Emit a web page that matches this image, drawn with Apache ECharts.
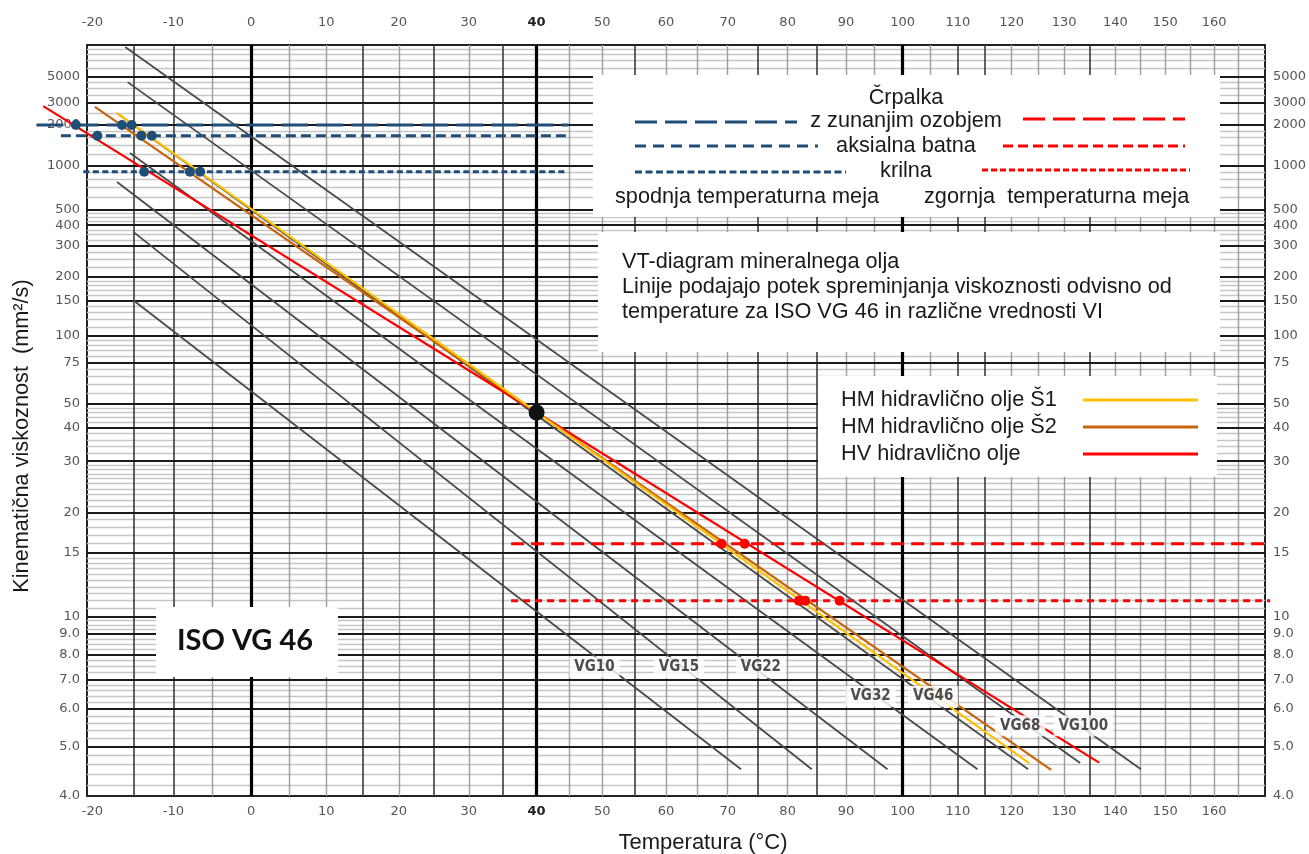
<!DOCTYPE html>
<html>
<head>
<meta charset="utf-8">
<script src="https://cdn.jsdelivr.net/npm/echarts@6/dist/echarts.min.js"></script>
<style>html,body{margin:0;padding:0;background:#fff}#c{width:1309px;height:854px}</style>
</head>
<body>
<div id="c"></div>
<script>
// ---------------- data ----------------
const xTickTemps = [-20,-10,0,10,20,30,40,50,60,70,80,90,100,110,120,130,140,150,160];
const yTickValues = [4,5,6,7,8,9,10,15,20,30,40,50,75,100,150,200,300,400,500,1000,2000,3000,5000];
const yTickLabels = ['4.0','5.0','6.0','7.0','8.0','9.0','10','15','20','30','40','50','75','100','150','200','300','400','500','1000','2000','3000','5000'];
const yMinorValues = [4.2,4.4,4.6,4.8,5.2,5.4,5.6,5.8,6.2,6.4,6.6,6.8,7.25,7.5,7.75,8.25,8.5,8.75,9.25,9.5,9.75,
  10.5,11,11.5,12,12.5,13,13.5,14,14.5,16,17,18,19,21,22,23,24,25,26,27,28,29,32,34,36,38,42,44,46,48,
  55,60,65,70,80,85,90,95,110,120,130,140,160,170,180,190,225,250,275,325,350,375,425,450,475,
  600,700,800,900,1200,1400,1600,1800,2500,3500,4000,4500,6000,7000,8000,9000];
const xLightTemps = [-5,5,10,20,30,45,50,60,65,70,80,90,95,105,120,125,130,140,145,150,155,160,165];
const xDarkTemps = [-15,-10,15,25,35,55,75,85,110,115,135];
const xThickTemps = [0,40,100];
const xRangeTemps = [-20.66, 170.7];
const yRangeVisc = [4.0, 9800];

const oilNames = ['HM hidravlično olje Š1','HM hidravlično olje Š2','HV hidravlično olje'];
const oilColors = ['#FFC000','#C8650C','#FF0000'];
const oilS1 = [[-17.05,2500],[40,46],[123.3,4.63]];
const oilS2 = [[-19.7,2795],[40,46],[127.5,4.49]];
const oilHV = [[-25.9,2832],[40,46],[136.8,4.64]];
const refPoint = [[40,46]];

const vgNames = ['VG10','VG15','VG22','VG32','VG46','VG68','VG100'];
const vg10 = [[-15.0,150],[72.2,4.5]];
const vg15 = [[-15.0,364],[84.1,4.5]];
const vg22 = [[-17.0,764],[97.3,4.5]];
const vg32 = [[-15.4,1226],[113.6,4.5]];
const vg46 = [[-17.0,2485],[123.1,4.5]];
const vg68 = [[-15.7,4517],[133.1,4.63]];
const vg100 = [[-16.0,9370],[145.1,4.5]];
const vgLabelPos = [[48.8,7.48],[62.1,7.46],[75.5,7.46],[94.3,6.4],[105.5,6.4],[121.6,5.52],[133.7,5.52]];

const pumpNames = ['z zunanjim ozobjem','aksialna batna','krilna'];
const pumpLowVisc = [2000,1650,900];
const pumpLowFrom = [-26.7,-23.8,-21.1];
const pumpLowTo = [44.8,44.8,44.35];
const pumpLowDots = [[-22.0,-16.4,-15.2],[-19.4,-14.0,-12.7],[-13.65,-7.9,-6.6]];
const pumpHighVisc = [16, 11];          // aksialna batna, krilna
const pumpHighFrom = [36.2, 36.2];
const pumpHighTo = [170.7, 171.8];
const pumpHighDots = [[69.0,72.8],[81.9,83.0,88.9]];

// ---------------- transforms (Ubbelohde–Walther scale) ----------------
const X = t => Math.log10(t + 273.15);
const W = v => Math.log10(Math.log10(v + 0.7));
const pt = p => [X(p[0]), W(p[1])];

const BLUE = '#1F4E79', RED = '#FF0000';
const F = '"Liberation Sans", Arial, sans-serif';
const AF = '"DejaVu Sans", Verdana, sans-serif';

function gridSeries(name, key, vals, style, z) {
  return { name, type: 'line', data: [], z, silent: true,
    markLine: { silent: true, z, precision: 12, symbol: ['none','none'], label: { show: false },
      emphasis: { disabled: true }, animation: false,
      lineStyle: Object.assign({ type: 'solid' }, style),
      data: vals.map(v => ({ [key]: v })) } };
}
function lineSeries(name, pts, color, width, z) {
  return { name, type: 'line', data: pts.map(pt), symbol: 'none', z, silent: true,
    emphasis: { disabled: true }, animation: false,
    itemStyle: { color }, lineStyle: { color, width, type: 'solid' } };
}
function linesSeries(name, pts, color, width, dash, z) {
  return { name, type: 'lines', coordinateSystem: 'cartesian2d', polyline: true, clip: false, silent: true,
    z, animation: false, data: [{ coords: pts.map(pt) }],
    lineStyle: { color, width, type: dash || 'solid', opacity: 1, curveness: 0 } };
}
function dotSeries(name, pts, color, size, z) {
  return { name, type: 'scatter', data: pts.map(pt), symbolSize: size, clip: false, z, silent: true,
    itemStyle: { color, opacity: 1 }, emphasis: { disabled: true }, animation: false };
}

const series = [];
series.push(gridSeries('minorH', 'yAxis', yMinorValues.map(W), { color: '#c6c6c6', width: 1.3 }, 1));
series.push(gridSeries('lightV', 'xAxis', xLightTemps.map(X), { color: '#9c9c9c', width: 1.4 }, 1));
series.push(gridSeries('darkV', 'xAxis', xDarkTemps.map(X), { color: '#3c3c3c', width: 1.6 }, 2));
series.push(gridSeries('majorH', 'yAxis', yTickValues.map(W), { color: '#1a1a1a', width: 2.2 }, 2));
series.push(gridSeries('thickV', 'xAxis', xThickTemps.map(X), { color: '#000', width: 3.2 }, 2));

[vg10, vg15, vg22, vg32, vg46, vg68, vg100].forEach((l, i) =>
  series.push(lineSeries(vgNames[i], l, '#4a4a4a', 1.8, 3)));

const lowDash = [[27,8],[10,5],[6,3.5]];
pumpNames.forEach((n, i) => {
  series.push(linesSeries('low ' + n, [[pumpLowFrom[i], pumpLowVisc[i]], [pumpLowTo[i], pumpLowVisc[i]]], BLUE, 3, lowDash[i], 4));
});
const highDash = [[13,7],[7,5]];
pumpHighVisc.forEach((v, i) => {
  series.push(linesSeries('high ' + i, [[pumpHighFrom[i], v], [pumpHighTo[i], v]], RED, 3, highDash[i], 4));
});

series.push(linesSeries(oilNames[2], oilHV, oilColors[2], 2.2, 'solid', 5));
series.push(linesSeries(oilNames[1], oilS2, oilColors[1], 2.2, 'solid', 5));
series.push(linesSeries(oilNames[0], oilS1, oilColors[0], 2.2, 'solid', 6));

const lowDotPts = [];
pumpLowDots.forEach((row, i) => row.forEach(t => lowDotPts.push([t, pumpLowVisc[i]])));
const highDotPts = [];
pumpHighDots.forEach((row, i) => row.forEach(t => highDotPts.push([t, pumpHighVisc[i]])));
series.push(dotSeries('lowDots', lowDotPts, BLUE, 10, 7));
series.push(dotSeries('highDots', highDotPts, RED, 10, 7));
series.push(dotSeries('ref', refPoint, '#111', 16, 8));

series.push({
  name: 'vgLabels', type: 'scatter', data: vgLabelPos.map(pt), symbolSize: 1, z: 9, silent: true,
  itemStyle: { color: 'rgba(0,0,0,0)' }, animation: false,
  label: { show: true, position: 'inside', formatter: p => vgNames[p.dataIndex],
    backgroundColor: '#fff', padding: [3, 5], color: '#222', fontWeight: 'bold',
    fontSize: 15, fontFamily: '"DejaVu Sans Condensed", "DejaVu Sans", sans-serif' }
});

function yLabel(val) {
  let best = 0, bd = Infinity;
  yTickValues.forEach((t, i) => { const d = Math.abs(W(t) - val); if (d < bd) { bd = d; best = i; } });
  return yTickLabels[best];
}
function xLabel(val) {
  const t = Math.round(Math.pow(10, val) - 273.15);
  return t === 40 ? '{b|40}' : String(t);
}
const axLbl = { color: '#555', fontSize: 13, fontFamily: AF };
const xAxisBase = {
  type: 'value', min: X(xRangeTemps[0]), max: X(xRangeTemps[1]),
  axisLine: { show: true, onZero: false, lineStyle: { color: '#222', width: 2 } },
  axisTick: { show: false }, splitLine: { show: false },
};
const yAxisBase = {
  type: 'value', min: W(yRangeVisc[0]), max: W(yRangeVisc[1]),
  axisLine: { show: true, onZero: false, lineStyle: { color: '#222', width: 2 } },
  axisTick: { show: false }, splitLine: { show: false },
};

const FS = 21.7;
function txt(x, y, text, align, extra) {
  return { type: 'text', x, y, z: 51, style: Object.assign({ text, fontSize: FS, fontFamily: F, fill: '#1a1a1a',
    align: align || 'center', verticalAlign: 'middle' }, extra || {}) };
}
function ln(x1, y1, x2, y2, color, dash) {
  return { type: 'line', z: 51, shape: { x1, y1, x2, y2 }, style: { stroke: color, lineWidth: 3, lineDash: dash } };
}

const graphic = [
  { type: 'rect', z: 50, shape: { x: 593, y: 75, width: 627, height: 142 }, style: { fill: '#fff' } },
  txt(906, 98, 'Črpalka'),
  ln(635, 122, 797, 122, BLUE, [22, 8]), txt(906, 121, pumpNames[0]), ln(1023, 119, 1185, 119, RED, [22, 8]),
  ln(635, 146, 818, 146, BLUE, [11, 7]), txt(906, 146, pumpNames[1]), ln(1003, 146, 1185, 146, RED, [10, 5]),
  ln(635, 172, 846, 172, BLUE, [7, 3.5]), txt(906, 171, pumpNames[2]), ln(982, 170, 1190, 170, RED, [6, 3]),
  txt(615, 197, 'spodnja temperaturna meja', 'left'), txt(924, 197, 'zgornja  temperaturna meja', 'left'),
  { type: 'rect', z: 50, shape: { x: 598, y: 232, width: 622, height: 120 }, style: { fill: '#fff' } },
  { type: 'text', x: 622, y: 250, z: 51, style: { text: 'VT-diagram mineralnega olja\nLinije podajajo potek spreminjanja viskoznosti odvisno od\ntemperature za ISO VG 46 in različne vrednosti VI',
    fontSize: FS, lineHeight: 25, fontFamily: F, fill: '#1a1a1a', align: 'left', verticalAlign: 'top' } },
  { type: 'rect', z: 50, shape: { x: 156, y: 607, width: 182, height: 70 }, style: { fill: '#fff' } },
  txt(245, 641, 'ISO VG 46', 'center', { fontFamily: 'Lato, "Open Sans", sans-serif', fontWeight: 'bold', fontSize: 29, fill: '#111' }),
  { type: 'text', x: 22, y: 436, rotation: Math.PI / 2, z: 51, style: { text: 'Kinematična viskoznost  (mm²/s)',
    fontSize: FS, fontFamily: F, fill: '#1a1a1a', align: 'center', verticalAlign: 'middle' } },
  txt(703, 843, 'Temperatura (°C)', 'center', { fontSize: 22 })
];

const option = {
  animation: false,
  backgroundColor: '#fff',
  grid: { left: 87, right: 44, top: 45, bottom: 58, containLabel: false, outerBoundsMode: 'none' },
  xAxis: [
    Object.assign({}, xAxisBase, { position: 'bottom',
      axisLabel: Object.assign({}, axLbl, { customValues: xTickTemps.map(X), formatter: xLabel, margin: 9,
        rich: { b: { fontWeight: 'bold', color: '#222', fontSize: 13, fontFamily: AF } } }) }),
    Object.assign({}, xAxisBase, { position: 'top',
      axisLabel: Object.assign({}, axLbl, { customValues: xTickTemps.map(X), formatter: xLabel, margin: 16,
        rich: { b: { fontWeight: 'bold', color: '#222', fontSize: 13, fontFamily: AF } } }) })
  ],
  yAxis: [
    Object.assign({}, yAxisBase, { position: 'left',
      axisLabel: Object.assign({}, axLbl, { customValues: yTickValues.map(W), formatter: yLabel, margin: 7 }) }),
    Object.assign({}, yAxisBase, { position: 'right',
      axisLabel: Object.assign({}, axLbl, { customValues: yTickValues.map(W), formatter: yLabel, margin: 8 }) })
  ],
  legend: {
    data: oilNames.map((n, i) => ({ name: n, itemStyle: { color: oilColors[i], borderWidth: 0 } })),
    left: 818, top: 376, orient: 'vertical', align: 'right', icon: 'rect',
    itemWidth: 115, itemHeight: 3, itemGap: 5, padding: [13, 19, 12, 23], backgroundColor: '#fff',
    selectedMode: false, z: 50,
    itemStyle: { borderWidth: 0 },
    formatter: n => '{a|' + n + '}',
    textStyle: { fontSize: FS, fontFamily: F, color: '#1a1a1a',
      rich: { a: { width: 237, align: 'left', fontSize: FS, fontFamily: F, color: '#1a1a1a' } } }
  },
  graphic: { elements: graphic },
  series
};

const chart = echarts.init(document.getElementById('c'), null, { renderer: 'canvas' });
chart.setOption(option);
</script>
</body>
</html>
